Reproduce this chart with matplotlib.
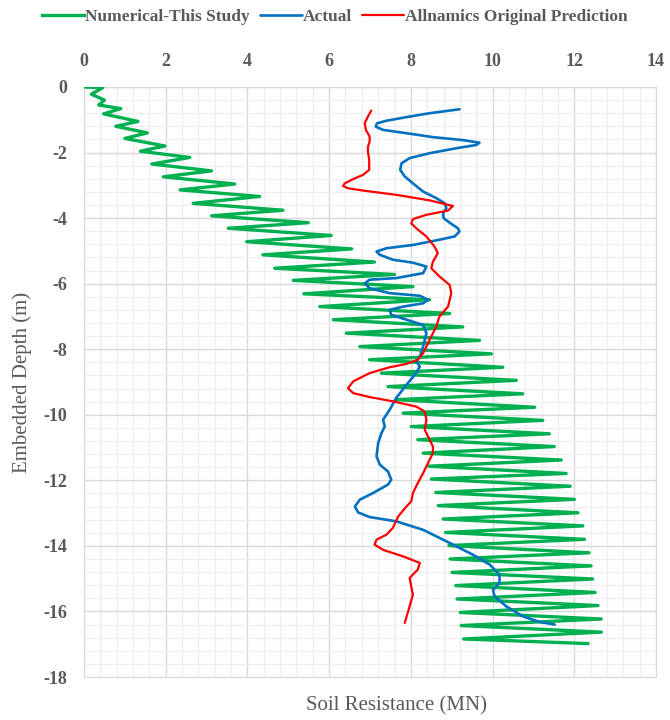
import matplotlib
matplotlib.use('Agg')
import matplotlib.pyplot as plt
from matplotlib.ticker import MultipleLocator

# Numerical - this study (zigzag, resistance in MN vs depth in m)
num_x = [0, 0.46, 0.18, 0.5, 0.36, 0.9, 0.48, 1.32, 0.78, 1.55, 1.0, 1.98, 1.38, 2.59,
         1.66, 3.12, 1.94, 3.69, 2.35, 4.3, 2.67, 4.87, 3.12, 5.49, 3.53, 6.05, 3.98, 6.55,
         4.38, 7.11, 4.67, 7.6, 5.12, 8.05, 5.38, 8.46, 5.77, 8.95, 6.10, 9.27, 6.42, 9.68,
         6.75, 9.97, 6.99, 10.25, 7.28, 10.58, 7.44, 10.74, 7.64, 11.03, 7.81, 11.23, 8.01,
         11.39, 8.17, 11.51, 8.30, 11.68, 8.44, 11.80, 8.50, 11.90, 8.61, 12.0, 8.67, 12.09,
         8.79, 12.21, 8.85, 12.25, 8.93, 12.36, 8.96, 12.41, 9.01, 12.45, 9.10, 12.51, 9.13,
         12.58, 9.21, 12.66, 9.23, 12.66, 9.29, 12.33]
num_depth = [0, -0.02, -0.22, -0.4, -0.55, -0.66, -0.82, -1.05, -1.2, -1.4, -1.57, -1.8,
             -1.96, -2.15, -2.35, -2.56, -2.74, -2.96, -3.14, -3.34, -3.55, -3.76, -3.93,
             -4.14, -4.31, -4.53, -4.72, -4.94, -5.12, -5.34, -5.53, -5.72, -5.9, -6.09,
             -6.31, -6.49, -6.70, -6.91, -7.10, -7.32, -7.51, -7.73, -7.92, -8.14, -8.32,
             -8.55, -8.73, -8.95, -9.14, -9.36, -9.54, -9.77, -9.95, -10.17, -10.36, -10.58,
             -10.76, -10.97, -11.17, -11.38, -11.57, -11.79, -11.96, -12.18, -12.37, -12.58,
             -12.77, -12.99, -13.18, -13.39, -13.59, -13.80, -13.99, -14.21, -14.40, -14.61,
             -14.81, -15.01, -15.21, -15.42, -15.62, -15.82, -16.03, -16.23, -16.43, -16.63,
             -16.84, -16.98]

# Actual (measured)
act_x = [9.19, 8.46, 7.89, 7.40, 7.17, 7.14, 7.32, 7.89, 8.54, 9.27, 9.68, 9.60, 9.11,
         8.46, 7.97, 7.77, 7.74, 7.85, 8.05, 8.30, 8.62, 8.83, 8.87, 8.79, 8.80, 8.95,
         9.15, 9.19, 9.07, 8.70, 8.05, 7.40, 7.16, 7.24, 7.56, 8.05, 8.38, 8.30, 7.64,
         6.99, 6.87, 6.99, 7.48, 8.22, 8.42, 8.30, 7.81, 7.48, 7.52, 7.89, 8.30, 8.38,
         8.30, 8.22, 8.13, 8.22, 8.13, 7.89, 7.64, 7.48, 7.32, 7.36, 7.28, 7.20, 7.16,
         7.24, 7.44, 7.52, 7.44, 7.07, 6.75, 6.63, 6.71, 6.99, 7.64, 8.30, 8.95, 9.52,
         9.93, 10.17, 10.17, 10.01, 10.05, 10.33, 10.74, 11.15, 11.52]
act_depth = [-0.68, -0.80, -0.92, -1.03, -1.11, -1.21, -1.31, -1.41, -1.53, -1.62, -1.70,
             -1.77, -1.87, -2.02, -2.17, -2.33, -2.53, -2.73, -2.94, -3.19, -3.39, -3.55,
             -3.70, -3.85, -4.00, -4.14, -4.31, -4.41, -4.56, -4.66, -4.82, -4.92, -5.02,
             -5.12, -5.27, -5.36, -5.48, -5.68, -5.83, -5.88, -5.99, -6.14, -6.29, -6.37,
             -6.49, -6.60, -6.70, -6.80, -6.95, -7.10, -7.26, -7.51, -7.92, -8.22, -8.37,
             -8.53, -8.73, -9.09, -9.49, -9.85, -10.15, -10.36, -10.56, -10.86, -11.27,
             -11.52, -11.73, -11.98, -12.13, -12.39, -12.59, -12.80, -12.98, -13.12, -13.25,
             -13.51, -13.91, -14.27, -14.57, -14.88, -15.13, -15.34, -15.54, -15.84, -16.15,
             -16.32, -16.40]

# Allnamics original prediction
alln_x = [7.03, 6.95, 6.87, 6.90, 6.99, 6.99, 6.95, 6.95, 6.98, 6.98, 6.83, 6.59, 6.38,
          6.34, 6.46, 6.83, 7.64, 8.46, 9.03, 8.91, 8.38, 8.05, 8.01, 8.13, 8.38, 8.58,
          8.66, 8.54, 8.50, 8.70, 8.95, 8.99, 8.91, 8.70, 8.62, 8.50, 8.38, 8.30, 8.17,
          7.89, 7.48, 6.99, 6.59, 6.46, 6.59, 6.99, 7.56, 8.13, 8.34, 8.38, 8.34, 8.42,
          8.54, 8.54, 8.42, 8.30, 8.17, 8.05, 8.01, 7.89, 7.69, 7.56, 7.40, 7.16, 7.11,
          7.32, 7.81, 8.22, 8.17, 7.97, 8.01, 8.05, 7.97, 7.85]
alln_depth = [-0.72, -0.90, -1.11, -1.31, -1.51, -1.67, -1.82, -1.97, -2.23, -2.53, -2.68,
              -2.81, -2.94, -3.02, -3.09, -3.16, -3.29, -3.46, -3.63, -3.77, -3.90, -4.03,
              -4.16, -4.31, -4.56, -4.87, -5.07, -5.33, -5.53, -5.78, -6.04, -6.29, -6.70,
              -7.00, -7.31, -7.61, -7.92, -8.12, -8.32, -8.45, -8.55, -8.73, -8.98, -9.19,
              -9.34, -9.46, -9.59, -9.75, -9.90, -10.15, -10.46, -10.66, -10.97, -11.17,
              -11.47, -11.78, -12.08, -12.39, -12.64, -12.80, -13.10, -13.45, -13.66,
              -13.81, -13.96, -14.12, -14.32, -14.52, -14.72, -14.98, -15.24, -15.49,
              -15.84, -16.35]

plt.rcParams['font.family'] = ['Liberation Serif', 'DejaVu Serif']
plt.rcParams['axes.unicode_minus'] = False
grey = '#595959'

fig = plt.figure(figsize=(6.7, 7.2), dpi=100)
ax = fig.add_axes([0.1254, 0.0597, 0.8537, 0.8195])

ax.plot(num_x, num_depth, color='#00b050', lw=2.4, solid_joinstyle='round',
        label='Numerical-This Study', zorder=3)
ax.plot(act_x, act_depth, color='#0070c0', lw=1.9, solid_joinstyle='round',
        solid_capstyle='round', label='Actual', zorder=4)
ax.plot(alln_x, alln_depth, color='#ff0000', lw=1.6, solid_joinstyle='round',
        solid_capstyle='round', label='Allnamics Original Prediction', zorder=5)

ax.set_xlim(0, 14)
ax.set_ylim(-18, 0)
ax.xaxis.set_major_locator(MultipleLocator(2))
ax.yaxis.set_major_locator(MultipleLocator(2))
ax.xaxis.set_minor_locator(MultipleLocator(0.4))
ax.yaxis.set_minor_locator(MultipleLocator(0.4))
ax.grid(which='major', color='#d9d9d9', lw=1.0, zorder=0)
ax.grid(which='minor', color='#eeeeee', lw=0.9, zorder=0)
ax.set_axisbelow(True)
ax.xaxis.tick_top()
ax.tick_params(which='both', length=0)
ax.tick_params(axis='x', pad=12, labelsize=13, labelcolor=grey)
ax.tick_params(axis='y', pad=12, labelsize=13, labelcolor=grey)
for lab in ax.get_xticklabels() + ax.get_yticklabels():
    lab.set_fontweight('bold')
for sp in ax.spines.values():
    sp.set_color('#d9d9d9')

ax.set_ylabel('Embedded Depth (m)', fontsize=15, color=grey, labelpad=8)
fig.text(397 / 670, 1 - 706 / 720, 'Soil Resistance (MN)', fontsize=15, color=grey,
         ha='center', va='center')

fig.legend(loc='center', bbox_to_anchor=(0.5, 1 - 17 / 720), ncol=3, frameon=False,
           handlelength=2.4, handletextpad=0.05, columnspacing=0.6,
           prop={'size': 12.5, 'weight': 'bold'}, labelcolor=grey)

fig.savefig('out.png', dpi=100)
